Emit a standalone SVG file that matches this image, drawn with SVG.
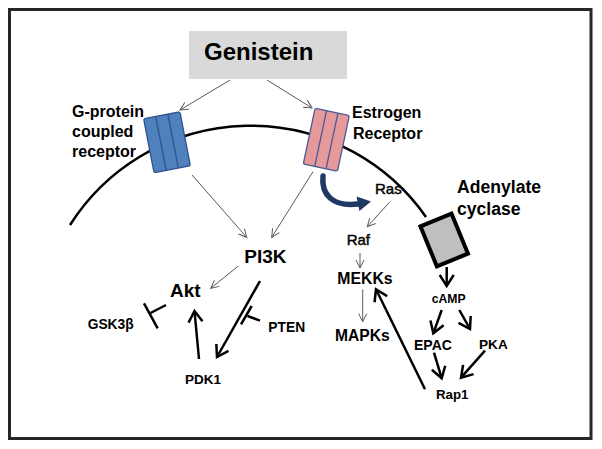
<svg xmlns="http://www.w3.org/2000/svg" width="602" height="449" viewBox="0 0 602 449">
<style>
text{font-family:"Liberation Sans",Arial,sans-serif;fill:#000}
.b{font-weight:bold}
.m{stroke:#000;stroke-width:0.45}
.thin{stroke:#595959;stroke-width:1;fill:none;marker-end:url(#ta)}
.thick{stroke:#000;stroke-width:2.5;fill:none;marker-end:url(#tb)}
.inh{stroke:#000;stroke-width:2.5;fill:none}
.stripe{stroke-width:1.3}
</style>
<defs>
<marker id="ta" markerUnits="userSpaceOnUse" markerWidth="12" markerHeight="12" viewBox="0 0 12 12" refX="10" refY="6" orient="auto"><path d="M2,2 L10,6 L2,10" fill="none" stroke="#595959" stroke-width="1"/></marker>
<marker id="tb" markerUnits="userSpaceOnUse" markerWidth="20" markerHeight="20" viewBox="0 0 20 20" refX="16" refY="10" orient="auto"><path d="M5,3 L16,10 L5,17" fill="none" stroke="#000" stroke-width="2.5"/></marker>
</defs>
<rect x="0" y="0" width="602" height="449" fill="#fff"/>
<rect x="9.5" y="9.5" width="581.5" height="429" fill="none" stroke="#262626" stroke-width="3"/>
<path id="membrane" d="M70,225 A214,214 0 0 1 426,217" fill="none" stroke="#000" stroke-width="2.5"/>
<g id="genistein">
<rect x="189" y="31" width="158" height="48" fill="#d9d9d9"/>
<text x="204" y="60" class="b" font-size="24">Genistein</text>
</g>
<g id="gpcr">
<g transform="translate(167,142.25) rotate(-11)">
<rect x="-18.5" y="-27.5" width="37" height="55" rx="2" fill="#4f81bd" stroke="#2f528f" stroke-width="1.3"/>
<line x1="-6.2" y1="-27.5" x2="-6.2" y2="27.5" stroke="#2f528f" class="stripe"/>
<line x1="6.2" y1="-27.5" x2="6.2" y2="27.5" stroke="#2f528f" class="stripe"/>
</g>
<text class="b" font-size="16"><tspan x="72" y="117">G-protein</tspan><tspan x="72" y="137">coupled</tspan><tspan x="72" y="157">receptor</tspan></text>
</g>
<g id="er">
<g transform="translate(326.3,139.75) rotate(12)">
<rect x="-17.5" y="-28.5" width="35" height="57" rx="2" fill="#e6999b" stroke="#4a5a94" stroke-width="1.3"/>
<line x1="-5.8" y1="-28.5" x2="-5.8" y2="28.5" stroke="#4a5a94" class="stripe"/>
<line x1="5.8" y1="-28.5" x2="5.8" y2="28.5" stroke="#4a5a94" class="stripe"/>
</g>
<text class="b" font-size="16"><tspan x="352" y="118">Estrogen</tspan><tspan x="353" y="139">Receptor</tspan></text>
</g>
<g id="adenylate">
<g transform="translate(444.2,240) rotate(-22.4)">
<rect x="-16.8" y="-21.6" width="33.6" height="43.2" fill="#bfbfbf" stroke="#000" stroke-width="4"/>
</g>
<text class="b" font-size="17.6"><tspan x="457" y="193">Adenylate</tspan><tspan x="457" y="215">cyclase</tspan></text>
</g>
<g id="pi3k"><text x="244.3" y="263.3" class="b" font-size="19">PI3K</text></g>
<g id="akt"><text x="170" y="297.3" class="b" font-size="19">Akt</text></g>
<g id="gsk3b"><text x="87.7" y="329.3" class="b" font-size="13.8">GSK3β</text></g>
<g id="pten"><text x="268.3" y="331.7" class="b" font-size="13.8">PTEN</text></g>
<g id="pdk1"><text x="185" y="384.3" class="b" font-size="13.5">PDK1</text></g>
<g id="ras"><text x="375" y="194" font-size="15" class="m">Ras</text></g>
<g id="raf"><text x="346.7" y="245" font-size="15" class="m">Raf</text></g>
<g id="mekks"><text x="337.3" y="284.3" class="b" font-size="15.8">MEKKs</text></g>
<g id="mapks"><text x="335" y="340.7" class="b" font-size="15.6">MAPKs</text></g>
<g id="camp"><text x="431.7" y="303.3" class="b" font-size="12.2">cAMP</text></g>
<g id="epac"><text x="414" y="350" class="b" font-size="14">EPAC</text></g>
<g id="pka"><text x="479" y="349.3" class="b" font-size="13.6">PKA</text></g>
<g id="rap1"><text x="436" y="399.3" class="b" font-size="13.3">Rap1</text></g>
<g id="connectors">
<line x1="230" y1="80" x2="180" y2="110" class="thin"/>
<line x1="267" y1="80" x2="312" y2="108" class="thin"/>
<line x1="192" y1="175" x2="246.7" y2="237.3" class="thin"/>
<line x1="313" y1="171.7" x2="271.7" y2="237.3" class="thin"/>
<line x1="238.3" y1="266" x2="210.7" y2="288.3" class="thin"/>
<line x1="390" y1="201.7" x2="367.3" y2="226.7" class="thin"/>
<line x1="360" y1="253" x2="360" y2="268" class="thin"/>
<line x1="362.7" y1="289.3" x2="362.7" y2="321.7" class="thin"/>
<line x1="199" y1="359" x2="194.5" y2="311" class="thick"/>
<line x1="260" y1="281" x2="217" y2="357" class="thick"/>
<line x1="166" y1="305" x2="150.5" y2="313" class="inh"/>
<line x1="144" y1="303.3" x2="157.7" y2="328.3" class="inh"/>
<line x1="260" y1="320.7" x2="247.5" y2="316" class="inh"/>
<line x1="241" y1="324.3" x2="251.7" y2="306" class="inh"/>
<line x1="446.7" y1="267" x2="446.7" y2="286" class="thick"/>
<line x1="441.7" y1="310" x2="433.3" y2="333.3" class="thick"/>
<line x1="459.3" y1="310" x2="470" y2="329" class="thick"/>
<line x1="434" y1="352.7" x2="441.7" y2="378.3" class="thick"/>
<line x1="485" y1="350.7" x2="461" y2="377.7" class="thick"/>
<line x1="425" y1="389.3" x2="376" y2="289.3" class="thick"/>
<path d="M323,176 C321,195 333,207 358,204" fill="none" stroke="#1f3864" stroke-width="5.5" stroke-linecap="round"/>
<polygon points="371,201.4 356.6,196.5 359.4,211" fill="#1f3864"/>
</g>
</svg>
